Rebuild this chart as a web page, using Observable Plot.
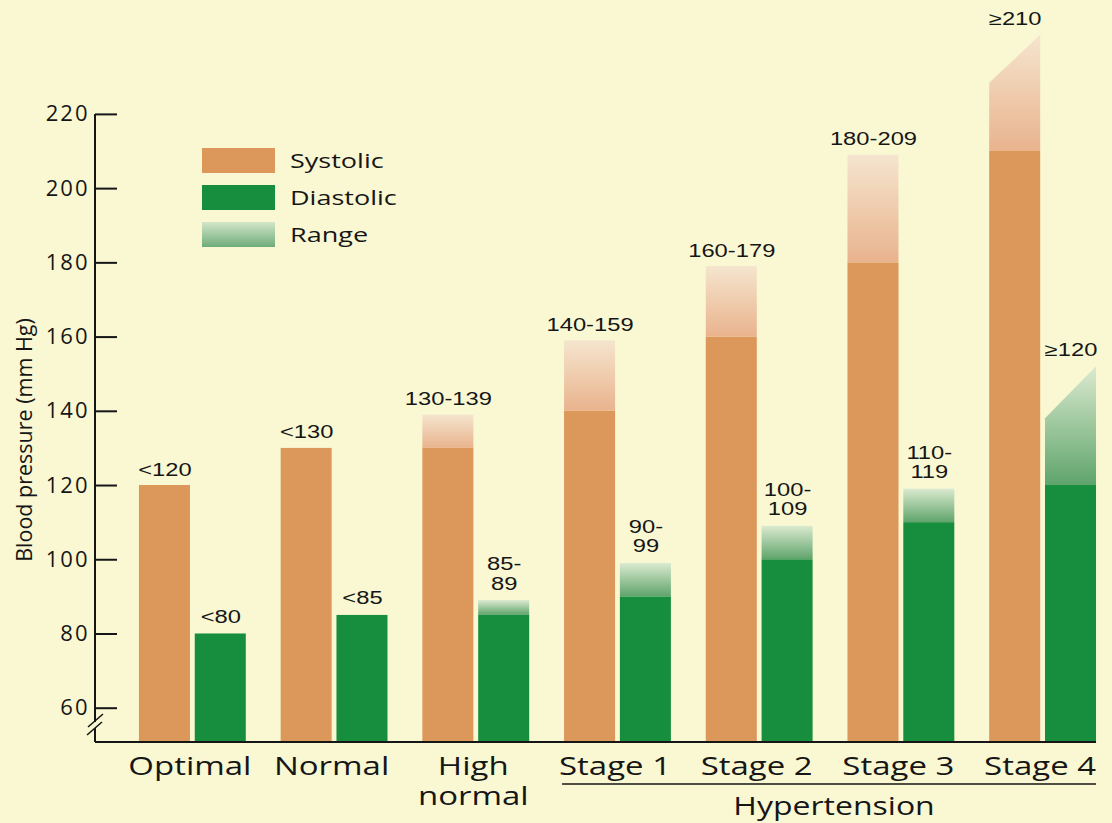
<!DOCTYPE html>
<html>
<head>
<meta charset="utf-8">
<script src="https://cdn.jsdelivr.net/npm/d3@7"></script>
<script src="https://cdn.jsdelivr.net/npm/@observablehq/plot@0.6"></script>
<style>
  html, body { margin: 0; padding: 0; background: #f9f8d3; }
  #wrap { position: relative; width: 1112px; height: 823px; overflow: hidden; background: #f9f8d3; }
  #chart svg { display: block; }
  .legend { position: absolute; left: 202px; top: 148px; font-family: "Open Sans", sans-serif; font-size: 20px; color: #161616; }
  .legend .row { display: flex; align-items: center; height: 25px; margin-bottom: 12px; }
  .legend .sw { width: 73px; height: 25px; margin-right: 15px; flex: none; }
  .legend .lab { display: inline-block; transform: scaleX(1.35); transform-origin: left center; white-space: nowrap; }
  #chart svg g[aria-label="y-axis tick label"] text { letter-spacing: 2px; }
</style>
</head>
<body>
<div id="wrap">
  <div id="chart"></div>
  <div class="legend" id="legend"></div>
</div>
<script>
// ---------- data ----------
const categories = ["Optimal", "Normal", "High normal", "Stage 1", "Stage 2", "Stage 3", "Stage 4"];
const categoryTicks = ["Optimal", "Normal", "High\nnormal", "Stage 1", "Stage 2", "Stage 3", "Stage 4"];
const systolicValues = [120, 130, 130, 140, 160, 180, 210];
const systolicRangeTopLeft = [null, null, 139, 159, 179, 209, 228.4];
const systolicRangeTopRight = [null, null, 139, 159, 179, 209, 241.3];
const diastolicValues = [80, 85, 85, 90, 100, 110, 120];
const diastolicRangeTopLeft = [null, null, 89, 99, 109, 119, 138];
const diastolicRangeTopRight = [null, null, 89, 99, 109, 119, 152];
const systolicLabels = ["<120", "<130", "130-139", "140-159", "160-179", "180-209", "≥210"];
const diastolicLabels = ["<80", "<85", "85-\n89", "90-\n99", "100-\n109", "110-\n119", "≥120"];
const yTicks = [60, 80, 100, 120, 140, 160, 180, 200, 220];
const legendItems = ["Systolic", "Diastolic", "Range"];
const groupLabel = "Hypertension";
const groupFrom = "Stage 1", groupTo = "Stage 4";
const yAxisTitle = "Blood pressure (mm Hg)";

// ---------- styling / layout ----------
const SYS = "#dc975a", DIA = "#168e3e";
const INK = "#161616";
const W = 1112, H = 823;
const M = {top: 20, right: 14, bottom: 81, left: 95};
const yFloor = 50.76, yCeil = 245.3;
const padIn = 0.246, padOut = 0.162, align = 0.957;
const step = (W - M.left - M.right) / (categories.length - padIn + 2 * padOut);
const bandW = step * (1 - padIn);
const barGap = 4.8;
const barW = (bandW - barGap) / 2;
const inset = bandW - barW;
const off = inset / 2;
const STRETCH = 1.32; // the reference type is set horizontally widened

const rows = categories.map((c, i) => ({
  category: c,
  tick: categoryTicks[i],
  sys: systolicValues[i],
  sysTopL: systolicRangeTopLeft[i],
  sysTopR: systolicRangeTopRight[i],
  dia: diastolicValues[i],
  diaTopL: diastolicRangeTopLeft[i],
  diaTopR: diastolicRangeTopRight[i],
  sysLabel: systolicLabels[i],
  diaLabel: diastolicLabels[i],
  sysLabelY: systolicRangeTopRight[i] ?? systolicValues[i],
  diaLabelY: diastolicRangeTopRight[i] ?? diastolicValues[i]
}));
const sysFlat = rows.filter(d => d.sysTopL != null && d.sysTopL === d.sysTopR);
const diaFlat = rows.filter(d => d.diaTopL != null && d.diaTopL === d.diaTopR);

const plot = Plot.plot({
  width: W, height: H,
  marginLeft: M.left, marginRight: M.right, marginTop: M.top, marginBottom: M.bottom,
  style: {background: "transparent", fontFamily: "'Open Sans', sans-serif", fontSize: "22px", color: INK, overflow: "visible"},
  x: {domain: categories, paddingInner: padIn, paddingOuter: padOut, align, round: false, axis: null},
  y: {domain: [yFloor, yCeil], axis: null},
  marks: [
    Plot.barY(rows, {x: "category", y1: yFloor, y2: "sys", fill: SYS, insetRight: inset}),
    Plot.barY(sysFlat, {x: "category", y1: "sys", y2: "sysTopL", fill: "url(#gradSys)", insetRight: inset}),
    Plot.barY(rows, {x: "category", y1: yFloor, y2: "dia", fill: DIA, insetLeft: inset}),
    Plot.barY(diaFlat, {x: "category", y1: "dia", y2: "diaTopL", fill: "url(#gradDia)", insetLeft: inset}),
    Plot.text(rows, {x: "category", y: "sysLabelY", text: "sysLabel", dx: -off, dy: -10, lineAnchor: "bottom",
      fontFamily: "'Liberation Sans', Arial, sans-serif", fontSize: 18, fill: INK}),
    Plot.text(rows, {x: "category", y: "diaLabelY", text: "diaLabel", dx: off, dy: -11, lineAnchor: "bottom", lineHeight: 1.08,
      fontFamily: "'Liberation Sans', Arial, sans-serif", fontSize: 18, fill: INK}),
    Plot.text(rows, {x: "category", text: "tick", frameAnchor: "bottom", lineAnchor: "top", dy: 11, lineHeight: 1.2,
      fontSize: 25, fill: INK, dx: -3}),
    Plot.tickY(yTicks, {y: d => d, stroke: INK, strokeWidth: 2, insetRight: W - M.left - M.right - 22}),
    Plot.axisY(yTicks, {tickSize: 0, tickPadding: 6, fontSize: 22, label: null, tickFormat: d => String(d)})
  ]
});

document.getElementById("chart").appendChild(plot);

const svg = d3.select(plot);

// widen the text glyphs horizontally, around each text's own anchor
function widen(sel, s) {
  sel.each(function () {
    const t = this.getAttribute("transform");
    if (t && t.includes("translate")) {
      this.setAttribute("transform", t + ` scale(${s},1)`);
    } else {
      const x = +(this.getAttribute("x") || 0), yy = +(this.getAttribute("y") || 0);
      this.removeAttribute("x");
      this.setAttribute("transform", `translate(${x},0) scale(${s},1)` + (t ? " " + t : ""));
      if (yy) this.setAttribute("y", yy);
    }
  });
}
widen(svg.selectAll('g[font-size="18"] text'), STRETCH);
widen(svg.selectAll('g[font-size="25"] text'), STRETCH);

const defs = svg.insert("defs", ":first-child");
function grad(id, bottom, top) {
  const g = defs.append("linearGradient").attr("id", id).attr("x1", 0).attr("y1", 1).attr("x2", 0).attr("y2", 0);
  g.append("stop").attr("offset", "0%").attr("stop-color", bottom);
  g.append("stop").attr("offset", "100%").attr("stop-color", top);
}
grad("gradSys", "#e9b38d", "#f5e5ce");
grad("gradDia", "#5fa46c", "#dbeacf");

const xs = plot.scale("x"), ys = plot.scale("y");
const y = v => ys.apply(v);
const bw = xs.bandwidth;

// slanted open-ended ranges (Stage 4)
const poly = svg.append("g").attr("aria-label", "open ranges");
rows.forEach(d => {
  const x0 = xs.apply(d.category);
  if (d.sysTopL != null && d.sysTopL !== d.sysTopR) {
    const a = x0, b = x0 + barW;
    poly.append("path").attr("fill", "url(#gradSys)")
      .attr("d", `M${a},${y(d.sys)}L${a},${y(d.sysTopL)}L${b},${y(d.sysTopR)}L${b},${y(d.sys)}Z`);
  }
  if (d.diaTopL != null && d.diaTopL !== d.diaTopR) {
    const a = x0 + inset, b = x0 + bw;
    poly.append("path").attr("fill", "url(#gradDia)")
      .attr("d", `M${a},${y(d.dia)}L${a},${y(d.diaTopL)}L${b},${y(d.diaTopR)}L${b},${y(d.dia)}Z`);
  }
});

// axes lines with break
const ax = svg.append("g").attr("stroke", INK).attr("stroke-width", 2).attr("fill", "none");
const yBottom = H - M.bottom;
const xLeft = M.left;
ax.append("line").attr("x1", xLeft).attr("x2", xLeft).attr("y1", y(yTicks[yTicks.length - 1])).attr("y2", yBottom - 20);
ax.append("line").attr("x1", xLeft).attr("x2", xLeft).attr("y1", yBottom - 14).attr("y2", yBottom);
ax.append("line").attr("x1", xLeft - 7).attr("x2", xLeft + 8).attr("y1", yBottom - 15).attr("y2", yBottom - 28).attr("stroke-width", 1.6);
ax.append("line").attr("x1", xLeft - 8).attr("x2", xLeft + 7).attr("y1", yBottom - 7).attr("y2", yBottom - 20).attr("stroke-width", 1.6);
ax.append("line").attr("x1", xLeft).attr("x2", W - M.right - 2).attr("y1", yBottom).attr("y2", yBottom);

// Hypertension bracket
const gx1 = xs.apply(groupFrom), gx2 = xs.apply(groupTo) + bw;
ax.append("line").attr("x1", gx1 - 2).attr("x2", gx2).attr("y1", yBottom + 42).attr("y2", yBottom + 42).attr("stroke-width", 1.6);
svg.append("text")
  .attr("transform", `translate(${(gx1 + gx2) / 2 + 4},${yBottom + 73}) scale(${STRETCH - 0.04},1)`)
  .attr("text-anchor", "middle").attr("font-size", 25).attr("fill", INK)
  .text(groupLabel);

// y-axis title
svg.append("text").attr("transform", `translate(32,${y(120) - 45}) rotate(-90)`)
  .attr("text-anchor", "middle").attr("font-size", 21.5).attr("fill", INK)
  .text(yAxisTitle);

// legend
const swatches = [SYS, DIA, "linear-gradient(to top, #6fac7a, #d3e6c9)"];
const legend = document.getElementById("legend");
legendItems.forEach((name, i) => {
  const row = document.createElement("div");
  row.className = "row";
  const sw = document.createElement("div");
  sw.className = "sw";
  sw.style.background = swatches[i];
  const t = document.createElement("span");
  t.className = "lab";
  t.textContent = name;
  row.appendChild(sw); row.appendChild(t);
  legend.appendChild(row);
});
</script>
</body>
</html>
